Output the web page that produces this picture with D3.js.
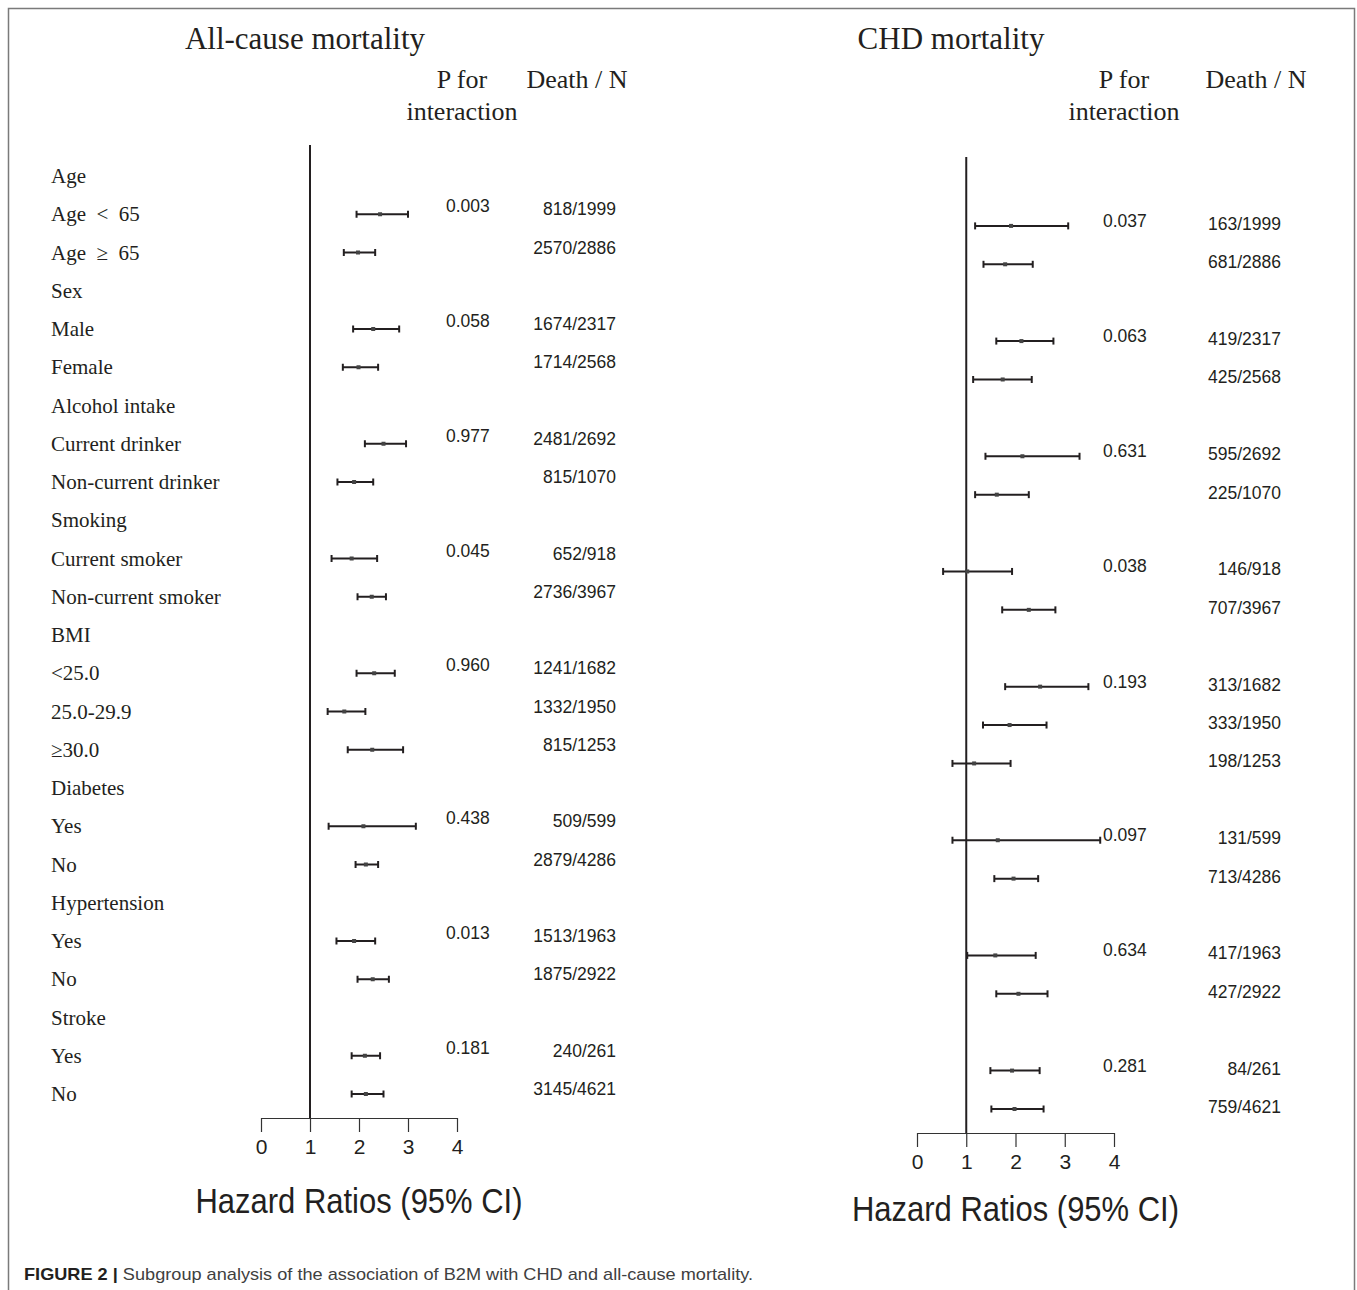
<!DOCTYPE html>
<html>
<head>
<meta charset="utf-8">
<script src="https://cdn.jsdelivr.net/npm/d3@7"></script>
<style>
  body { margin: 0; background: #fff; }
  svg { display: block; }
</style>
</head>
<body>
<svg id="fig"></svg>
<script>
let width = 1357;
let height = 1290;
let ink = "#231f20";

// row labels (left column), subgroup rows and their group
let rowLabels = ["Age", "Age  <  65", "Age  \u2265  65", "Sex", "Male", "Female", "Alcohol intake",
  "Current drinker", "Non-current drinker", "Smoking", "Current smoker", "Non-current smoker",
  "BMI", "<25.0", "25.0-29.9", "\u226530.0", "Diabetes", "Yes", "No", "Hypertension", "Yes", "No",
  "Stroke", "Yes", "No"];
let subRows = [1, 2, 4, 5, 7, 8, 10, 11, 13, 14, 15, 17, 18, 20, 21, 23, 24];
let subGroup = [0, 0, 1, 1, 2, 2, 3, 3, 4, 4, 4, 5, 5, 6, 6, 7, 7];

// all-cause mortality
let allHR = [2.43, 1.98, 2.29, 1.99, 2.50, 1.90, 1.85, 2.26, 2.31, 1.70, 2.27, 2.09, 2.14, 1.90, 2.28, 2.12, 2.14];
let allLo = [1.95, 1.69, 1.88, 1.67, 2.12, 1.56, 1.44, 1.97, 1.95, 1.36, 1.77, 1.38, 1.93, 1.54, 1.97, 1.85, 1.85];
let allHi = [3.00, 2.33, 2.82, 2.39, 2.96, 2.29, 2.37, 2.55, 2.73, 2.13, 2.90, 3.16, 2.39, 2.33, 2.61, 2.43, 2.50];
let allDeaths = ["818/1999", "2570/2886", "1674/2317", "1714/2568", "2481/2692", "815/1070", "652/918",
  "2736/3967", "1241/1682", "1332/1950", "815/1253", "509/599", "2879/4286", "1513/1963", "1875/2922",
  "240/261", "3145/4621"];
let allP = ["0.003", "0.058", "0.977", "0.045", "0.960", "0.438", "0.013", "0.181"];

// CHD mortality
let chdHR = [1.91, 1.79, 2.12, 1.74, 2.14, 1.62, 1.02, 2.27, 2.50, 1.88, 1.16, 1.64, 1.96, 1.59, 2.06, 1.93, 1.98];
let chdLo = [1.18, 1.35, 1.61, 1.14, 1.39, 1.18, 0.53, 1.73, 1.79, 1.34, 0.72, 0.72, 1.57, 1.02, 1.61, 1.49, 1.51];
let chdHi = [3.07, 2.35, 2.77, 2.33, 3.30, 2.27, 1.93, 2.81, 3.48, 2.63, 1.90, 3.72, 2.46, 2.41, 2.65, 2.49, 2.57];
let chdDeaths = ["163/1999", "681/2886", "419/2317", "425/2568", "595/2692", "225/1070", "146/918",
  "707/3967", "313/1682", "333/1950", "198/1253", "131/599", "713/4286", "417/1963", "427/2922",
  "84/261", "759/4621"];
let chdP = ["0.037", "0.063", "0.631", "0.038", "0.193", "0.097", "0.634", "0.281"];

let ticks = [0, 1, 2, 3, 4];

let svg = d3.select("#fig")
  .attr("width", width)
  .attr("height", height);

svg.append("rect")
  .attr("x", 8.5).attr("y", 8.5)
  .attr("width", 1346).attr("height", 1320)
  .attr("fill", "none")
  .attr("stroke", "#7a7a7a")
  .attr("stroke-width", 1.5);

let panels = [
  { title: "All-cause mortality", titleX: 305, hr: allHR, lo: allLo, hi: allHi, deaths: allDeaths, p: allP,
    x0: 261, x4: 457, yTop: 176, yBot: 1094, refTop: 145, axisY: 1118, xlabDy: 95,
    pX: 446, pDy: -2, dX: 616, dDy: 1, headP: 462, headD: 577, labels: true },
  { title: "CHD mortality", titleX: 951, hr: chdHR, lo: chdLo, hi: chdHi, deaths: chdDeaths, p: chdP,
    x0: 917, x4: 1114, yTop: 187.5, yBot: 1109, refTop: 157, axisY: 1133, xlabDy: 88,
    pX: 1103, pDy: 1, dX: 1281, dDy: 4, headP: 1124, headD: 1256, labels: false }
];

panels.forEach(drawPanel);

function drawPanel(pn) {
  let g = svg.append("g");

  let x = d3.scaleLinear().domain([0, 4]).range([pn.x0, pn.x4]);
  let y = d3.scalePoint().domain(d3.range(rowLabels.length)).range([pn.yTop, pn.yBot]);

  // headers
  g.append("text")
    .attr("x", pn.titleX).attr("y", 49)
    .attr("text-anchor", "middle")
    .attr("font-family", "'Liberation Serif', 'Times New Roman', serif")
    .attr("font-size", 31)
    .attr("fill", ink)
    .text(pn.title);

  let serif = [["P for", pn.headP, 88], ["interaction", pn.headP, 120], ["Death / N", pn.headD, 88]];
  serif.forEach(([t, hx, hy]) => {
    g.append("text")
      .attr("x", hx).attr("y", hy)
      .attr("text-anchor", "middle")
      .attr("font-family", "'Liberation Serif', 'Times New Roman', serif")
      .attr("font-size", 26)
      .attr("fill", ink)
      .text(t);
  });

  if (pn.labels) {
    g.append("g").selectAll("text")
      .data(rowLabels)
      .enter()
        .append("text")
        .attr("x", 51)
        .attr("y", (d, i) => y(i) + 7)
        .attr("font-family", "'Liberation Serif', 'Times New Roman', serif")
        .attr("font-size", 21)
        .attr("fill", ink)
        .style("white-space", "pre")
        .text(d => d);
  }

  // reference line at HR = 1
  g.append("line")
    .attr("x1", x(1)).attr("x2", x(1))
    .attr("y1", pn.refTop).attr("y2", pn.axisY)
    .attr("stroke", ink)
    .attr("stroke-width", 2);

  // confidence intervals
  let rows = g.append("g").selectAll("g")
    .data(subRows)
    .enter()
      .append("g")
      .attr("transform", d => `translate(0 ${y(d)})`);

  rows.append("line")
    .attr("x1", (d, i) => x(pn.lo[i]))
    .attr("x2", (d, i) => x(pn.hi[i]))
    .attr("stroke", ink)
    .attr("stroke-width", 2);

  ["lo", "hi"].forEach(k => {
    rows.append("line")
      .attr("x1", (d, i) => x(pn[k][i]))
      .attr("x2", (d, i) => x(pn[k][i]))
      .attr("y1", -3.5).attr("y2", 3.5)
      .attr("stroke", ink)
      .attr("stroke-width", 2);
  });

  rows.append("rect")
    .attr("x", (d, i) => x(pn.hr[i]) - 2)
    .attr("y", -2)
    .attr("width", 4).attr("height", 4)
    .attr("fill", "#444");

  // death / N
  rows.append("text")
    .attr("x", pn.dX)
    .attr("y", pn.dDy)
    .attr("text-anchor", "end")
    .attr("font-family", "'Liberation Sans', Arial, sans-serif")
    .attr("font-size", 17.5)
    .attr("fill", ink)
    .text((d, i) => pn.deaths[i]);

  // p for interaction, on first row of each group
  rows.filter((d, i) => i == 0 || subGroup[i] != subGroup[i - 1])
    .append("text")
    .attr("x", pn.pX)
    .attr("y", pn.pDy)
    .attr("font-family", "'Liberation Sans', Arial, sans-serif")
    .attr("font-size", 17.5)
    .attr("fill", ink)
    .text(d => pn.p[subGroup[subRows.indexOf(d)]]);

  // axis
  let axis = g.append("g")
    .attr("transform", `translate(0 ${pn.axisY})`)
    .call(d3.axisBottom(x).tickValues(ticks).tickSize(14).tickSizeOuter(0).tickPadding(7).tickFormat(d3.format("d")));
  axis.select(".domain").attr("stroke", "#333").attr("stroke-width", 1.2);
  axis.selectAll(".tick line").attr("stroke", "#333").attr("stroke-width", 1.2);
  axis.selectAll(".tick text")
    .attr("font-family", "'Liberation Sans', Arial, sans-serif")
    .attr("font-size", 21)
    .attr("fill", ink);

  g.append("text")
    .attr("x", (pn.x0 + pn.x4) / 2)
    .attr("y", pn.axisY + pn.xlabDy)
    .attr("text-anchor", "middle")
    .attr("font-family", "'Liberation Sans', Arial, sans-serif")
    .attr("font-size", 35)
    .attr("textLength", 327)
    .attr("lengthAdjust", "spacingAndGlyphs")
    .attr("fill", ink)
    .text("Hazard Ratios (95% CI)");
}

// caption
let cap = svg.append("text")
  .attr("x", 24).attr("y", 1280)
  .attr("font-family", "'Liberation Sans', Arial, sans-serif")
  .attr("font-size", 17)
  .attr("textLength", 729)
  .attr("lengthAdjust", "spacingAndGlyphs");
cap.append("tspan")
  .attr("font-weight", "bold")
  .attr("fill", ink)
  .text("FIGURE 2 | ");
cap.append("tspan")
  .attr("fill", "#404040")
  .text("Subgroup analysis of the association of B2M with CHD and all-cause mortality.");
</script>
</body>
</html>
